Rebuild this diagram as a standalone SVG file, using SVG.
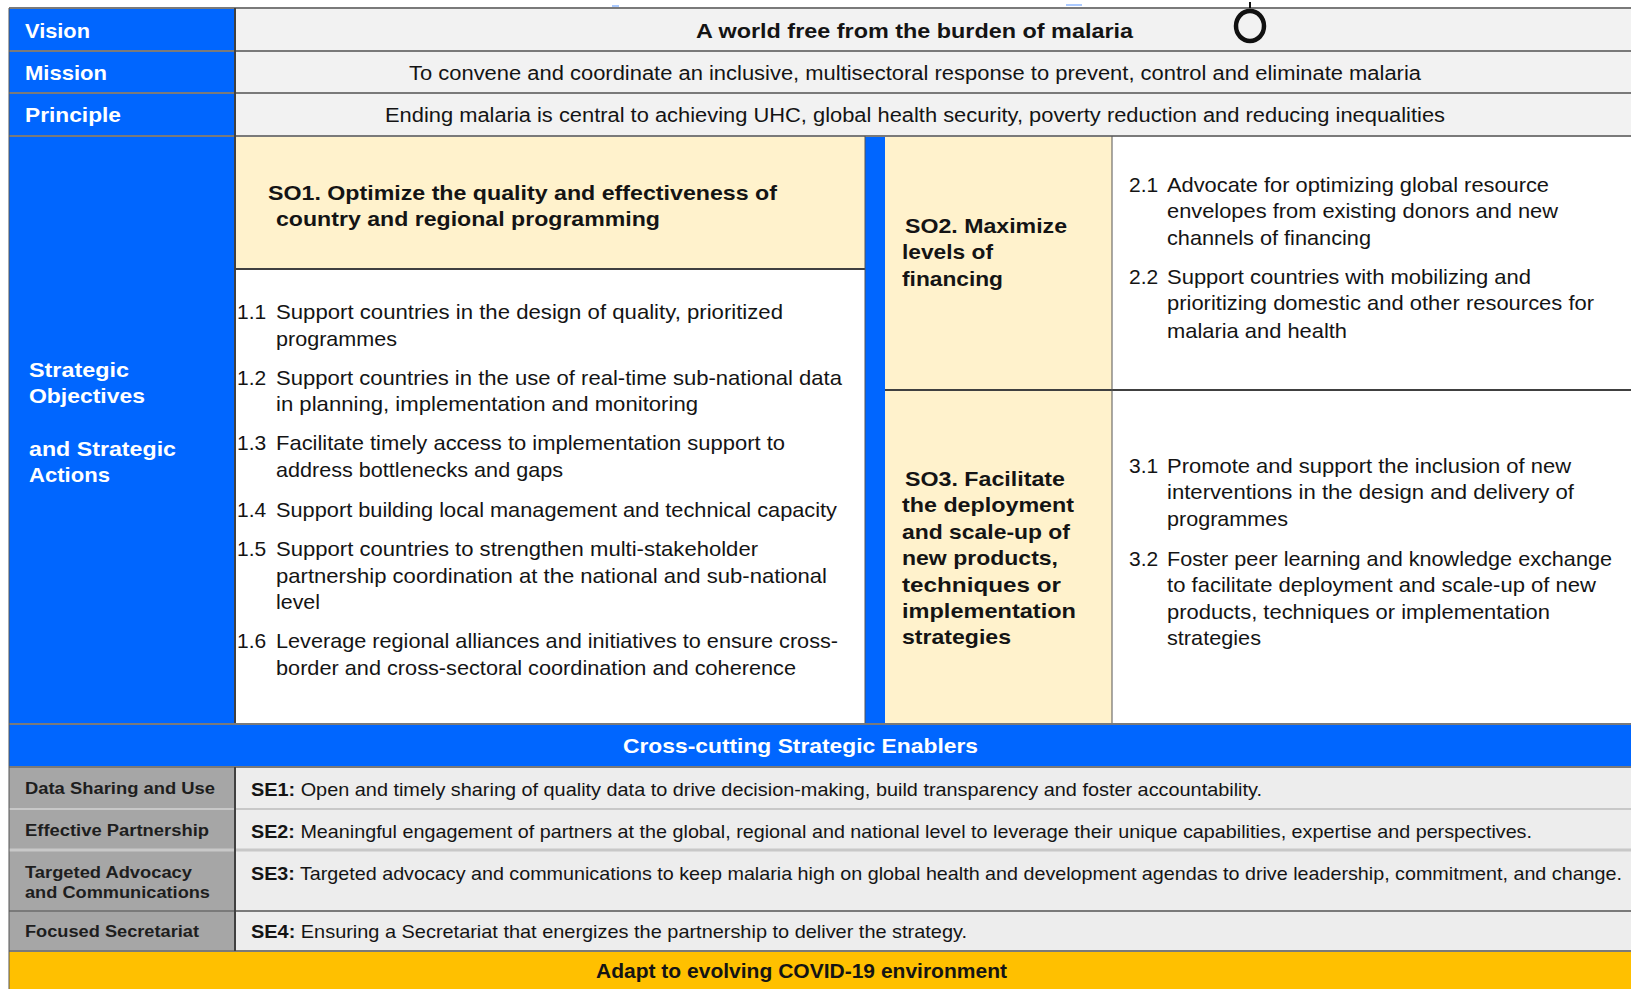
<svg xmlns="http://www.w3.org/2000/svg" width="1631" height="989" viewBox="0 0 1631 989">
<style>
text{font-family:"Liberation Sans",Arial,sans-serif;fill:#141414}
.lbl{font-weight:bold;fill:#ffffff;font-size:21px}
.hdr{font-weight:bold;font-size:21px}
.body{font-size:21px}
.row{font-size:20px}
.se{font-size:19px}
.sel{font-size:16px;font-weight:bold;fill:#1e1e1e}
.b{font-weight:bold}
.blue{fill:#0066ff}
.grayrow{fill:#f2f2f2}
.beige{fill:#fff2cc}
.white{fill:#ffffff}
.serow{fill:#ededed}
.selc{fill:#a6a6a6}
.yel{fill:#ffc000}
.ln{stroke:#7a7a7a;stroke-width:2;fill:none}
.lnd{stroke:#404040;stroke-width:2;fill:none}
.lnt{stroke:#555555;stroke-width:1;fill:none}
</style>
<rect x="0" y="0" width="1631" height="989" fill="#ffffff"/>

<g id="vision">
<rect class="blue" x="9" y="8" width="226" height="43"/>
<rect class="grayrow" x="235" y="8" width="1396" height="43"/>
<text class="lbl" x="25" y="38" textLength="65" lengthAdjust="spacingAndGlyphs">Vision</text>
<text class="row b" x="696" y="38" textLength="437" lengthAdjust="spacingAndGlyphs">A world free from the burden of malaria</text>
</g>
<g id="mission">
<rect class="blue" x="9" y="51" width="226" height="42"/>
<rect class="grayrow" x="235" y="51" width="1396" height="42"/>
<text class="lbl" x="25" y="80" textLength="82" lengthAdjust="spacingAndGlyphs">Mission</text>
<text class="row" x="409" y="80" textLength="1012" lengthAdjust="spacingAndGlyphs">To convene and coordinate an inclusive, multisectoral response to prevent, control and eliminate malaria</text>
</g>
<g id="principle">
<rect class="blue" x="9" y="93" width="226" height="43"/>
<rect class="grayrow" x="235" y="93" width="1396" height="43"/>
<text class="lbl" x="25" y="122" textLength="96" lengthAdjust="spacingAndGlyphs">Principle</text>
<text class="row" x="385" y="122" textLength="1060" lengthAdjust="spacingAndGlyphs">Ending malaria is central to achieving UHC, global health security, poverty reduction and reducing inequalities</text>
</g>

<g id="strategic-label">
<rect class="blue" x="9" y="136" width="226" height="588"/>
<text class="lbl" x="29" y="377" textLength="100" lengthAdjust="spacingAndGlyphs">Strategic</text>
<text class="lbl" x="29" y="403" textLength="116" lengthAdjust="spacingAndGlyphs">Objectives</text>
<text class="lbl" x="29" y="456" textLength="147" lengthAdjust="spacingAndGlyphs">and Strategic</text>
<text class="lbl" x="29" y="482" textLength="81" lengthAdjust="spacingAndGlyphs">Actions</text>
</g>

<g id="so1">
<rect class="beige" x="235" y="136" width="630" height="133"/>
<rect class="white" x="235" y="269" width="630" height="455"/>
<text class="hdr" x="268" y="200" textLength="509" lengthAdjust="spacingAndGlyphs">SO1. Optimize the quality and effectiveness of</text>
<text class="hdr" x="276" y="226" textLength="384" lengthAdjust="spacingAndGlyphs">country and regional programming</text>
<text class="body" x="237" y="319">1.1</text>
<text class="body" x="276" y="319" textLength="507" lengthAdjust="spacingAndGlyphs">Support countries in the design of quality, prioritized</text>
<text class="body" x="276" y="346" textLength="121" lengthAdjust="spacingAndGlyphs">programmes</text>
<text class="body" x="237" y="385">1.2</text>
<text class="body" x="276" y="385" textLength="566" lengthAdjust="spacingAndGlyphs">Support countries in the use of real-time sub-national data</text>
<text class="body" x="276" y="411" textLength="422" lengthAdjust="spacingAndGlyphs">in planning, implementation and monitoring</text>
<text class="body" x="237" y="450">1.3</text>
<text class="body" x="276" y="450" textLength="509" lengthAdjust="spacingAndGlyphs">Facilitate timely access to implementation support to</text>
<text class="body" x="276" y="477" textLength="287" lengthAdjust="spacingAndGlyphs">address bottlenecks and gaps</text>
<text class="body" x="237" y="517">1.4</text>
<text class="body" x="276" y="517" textLength="561" lengthAdjust="spacingAndGlyphs">Support building local management and technical capacity</text>
<text class="body" x="237" y="556">1.5</text>
<text class="body" x="276" y="556" textLength="482" lengthAdjust="spacingAndGlyphs">Support countries to strengthen multi-stakeholder</text>
<text class="body" x="276" y="583" textLength="551" lengthAdjust="spacingAndGlyphs">partnership coordination at the national and sub-national</text>
<text class="body" x="276" y="609" textLength="44" lengthAdjust="spacingAndGlyphs">level</text>
<text class="body" x="237" y="648">1.6</text>
<text class="body" x="276" y="648" textLength="562" lengthAdjust="spacingAndGlyphs">Leverage regional alliances and initiatives to ensure cross-</text>
<text class="body" x="276" y="675" textLength="520" lengthAdjust="spacingAndGlyphs">border and cross-sectoral coordination and coherence</text>
</g>

<g id="divider-stripe">
<rect class="blue" x="865" y="136" width="20" height="588"/>
</g>

<g id="so2">
<rect class="beige" x="885" y="136" width="227" height="254"/>
<rect class="white" x="1112" y="136" width="519" height="254"/>
<text class="hdr" x="905" y="233" textLength="162" lengthAdjust="spacingAndGlyphs">SO2. Maximize</text>
<text class="hdr" x="902" y="259" textLength="91" lengthAdjust="spacingAndGlyphs">levels of</text>
<text class="hdr" x="902" y="286" textLength="101" lengthAdjust="spacingAndGlyphs">financing</text>
<text class="body" x="1129" y="192">2.1</text>
<text class="body" x="1167" y="192" textLength="382" lengthAdjust="spacingAndGlyphs">Advocate for optimizing global resource</text>
<text class="body" x="1167" y="218" textLength="391" lengthAdjust="spacingAndGlyphs">envelopes from existing donors and new</text>
<text class="body" x="1167" y="245" textLength="204" lengthAdjust="spacingAndGlyphs">channels of financing</text>
<text class="body" x="1129" y="284">2.2</text>
<text class="body" x="1167" y="284" textLength="364" lengthAdjust="spacingAndGlyphs">Support countries with mobilizing and</text>
<text class="body" x="1167" y="310" textLength="427" lengthAdjust="spacingAndGlyphs">prioritizing domestic and other resources for</text>
<text class="body" x="1167" y="338" textLength="180" lengthAdjust="spacingAndGlyphs">malaria and health</text>
</g>

<g id="so3">
<rect class="beige" x="885" y="390" width="227" height="334"/>
<rect class="white" x="1112" y="390" width="519" height="334"/>
<text class="hdr" x="905" y="486" textLength="160" lengthAdjust="spacingAndGlyphs">SO3. Facilitate</text>
<text class="hdr" x="902" y="512" textLength="172" lengthAdjust="spacingAndGlyphs">the deployment</text>
<text class="hdr" x="902" y="539" textLength="168" lengthAdjust="spacingAndGlyphs">and scale-up of</text>
<text class="hdr" x="902" y="565" textLength="156" lengthAdjust="spacingAndGlyphs">new products,</text>
<text class="hdr" x="902" y="592" textLength="159" lengthAdjust="spacingAndGlyphs">techniques or</text>
<text class="hdr" x="902" y="618" textLength="174" lengthAdjust="spacingAndGlyphs">implementation</text>
<text class="hdr" x="902" y="644" textLength="109" lengthAdjust="spacingAndGlyphs">strategies</text>
<text class="body" x="1129" y="473">3.1</text>
<text class="body" x="1167" y="473" textLength="404" lengthAdjust="spacingAndGlyphs">Promote and support the inclusion of new</text>
<text class="body" x="1167" y="499" textLength="407" lengthAdjust="spacingAndGlyphs">interventions in the design and delivery of</text>
<text class="body" x="1167" y="526" textLength="121" lengthAdjust="spacingAndGlyphs">programmes</text>
<text class="body" x="1129" y="566">3.2</text>
<text class="body" x="1167" y="566" textLength="445" lengthAdjust="spacingAndGlyphs">Foster peer learning and knowledge exchange</text>
<text class="body" x="1167" y="592" textLength="429" lengthAdjust="spacingAndGlyphs">to facilitate deployment and scale-up of new</text>
<text class="body" x="1167" y="619" textLength="383" lengthAdjust="spacingAndGlyphs">products, techniques or implementation</text>
<text class="body" x="1167" y="645" textLength="94" lengthAdjust="spacingAndGlyphs">strategies</text>
</g>

<g id="enablers-header">
<rect class="blue" x="9" y="724" width="1622" height="43"/>
<text class="lbl" x="623" y="753" font-size="20" textLength="355" lengthAdjust="spacingAndGlyphs">Cross-cutting Strategic Enablers</text>
</g>

<g id="se1">
<rect class="selc" x="9" y="767" width="226" height="42"/>
<rect class="serow" x="235" y="767" width="1396" height="42"/>
<text class="sel" x="25" y="794" textLength="190" lengthAdjust="spacingAndGlyphs">Data Sharing and Use</text>
<text class="se" x="251" y="796" textLength="1011" lengthAdjust="spacingAndGlyphs"><tspan class="b">SE1:</tspan> Open and timely sharing of quality data to drive decision-making, build transparency and foster accountability.</text>
</g>
<g id="se2">
<rect class="selc" x="9" y="809" width="226" height="41"/>
<rect class="serow" x="235" y="809" width="1396" height="41"/>
<text class="sel" x="25" y="836" textLength="184" lengthAdjust="spacingAndGlyphs">Effective Partnership</text>
<text class="se" x="251" y="838" textLength="1281" lengthAdjust="spacingAndGlyphs"><tspan class="b">SE2:</tspan> Meaningful engagement of partners at the global, regional and national level to leverage their unique capabilities, expertise and perspectives.</text>
</g>
<g id="se3">
<rect class="selc" x="9" y="850" width="226" height="61"/>
<rect class="serow" x="235" y="850" width="1396" height="61"/>
<text class="sel" x="25" y="878" textLength="167" lengthAdjust="spacingAndGlyphs">Targeted Advocacy</text>
<text class="sel" x="25" y="898" textLength="185" lengthAdjust="spacingAndGlyphs">and Communications</text>
<text class="se" x="251" y="880" textLength="1371" lengthAdjust="spacingAndGlyphs"><tspan class="b">SE3:</tspan> Targeted advocacy and communications to keep malaria high on global health and development agendas to drive leadership, commitment, and change.</text>
</g>
<g id="se4">
<rect class="selc" x="9" y="911" width="226" height="40"/>
<rect class="serow" x="235" y="911" width="1396" height="40"/>
<text class="sel" x="25" y="937" textLength="174" lengthAdjust="spacingAndGlyphs">Focused Secretariat</text>
<text class="se" x="251" y="938" textLength="716" lengthAdjust="spacingAndGlyphs"><tspan class="b">SE4:</tspan> Ensuring a Secretariat that energizes the partnership to deliver the strategy.</text>
</g>
<g id="covid">
<rect class="yel" x="9" y="951" width="1622" height="38"/>
<text class="row b" x="596" y="978" textLength="411" lengthAdjust="spacingAndGlyphs">Adapt to evolving COVID-19 environment</text>
</g>

<g id="lines">
<line class="ln" x1="9" y1="8" x2="1631" y2="8"/>
<line class="ln" x1="9" y1="51" x2="1631" y2="51"/>
<line class="ln" x1="9" y1="93" x2="1631" y2="93"/>
<line class="ln" x1="9" y1="136" x2="1631" y2="136"/>
<line class="lnd" x1="235" y1="269" x2="865" y2="269"/>
<line class="lnd" x1="885" y1="390" x2="1631" y2="390"/>
<line class="lnt" x1="865" y1="136" x2="865" y2="724"/>
<line class="lnt" x1="1112" y1="136" x2="1112" y2="724"/>
<line class="lnd" x1="235" y1="8" x2="235" y2="724"/>
<line class="ln" x1="9" y1="724" x2="1631" y2="724"/>
<line class="ln" x1="9" y1="767" x2="1631" y2="767"/>
<line stroke="#c8c8c8" stroke-width="2" x1="9" y1="809" x2="1631" y2="809"/>
<line stroke="#c8c8c8" stroke-width="3" x1="9" y1="850" x2="1631" y2="850"/>
<line class="ln" x1="9" y1="911" x2="1631" y2="911"/>
<line class="ln" x1="9" y1="951" x2="1631" y2="951"/>
<line class="lnd" x1="235" y1="767" x2="235" y2="951"/>
<line class="lnt" x1="9" y1="8" x2="9" y2="989"/>
</g>

<g id="marker-circle">
<ellipse cx="1250" cy="26" rx="14" ry="15" fill="none" stroke="#111" stroke-width="4.5"/>
<line x1="1250" y1="2" x2="1250" y2="8" stroke="#111" stroke-width="2"/>
<line x1="612" y1="6" x2="619" y2="6" stroke="#8fb8ff" stroke-width="1.5"/>
<line x1="1066" y1="5" x2="1082" y2="5" stroke="#8fb8ff" stroke-width="1.5"/>
</g>
</svg>
